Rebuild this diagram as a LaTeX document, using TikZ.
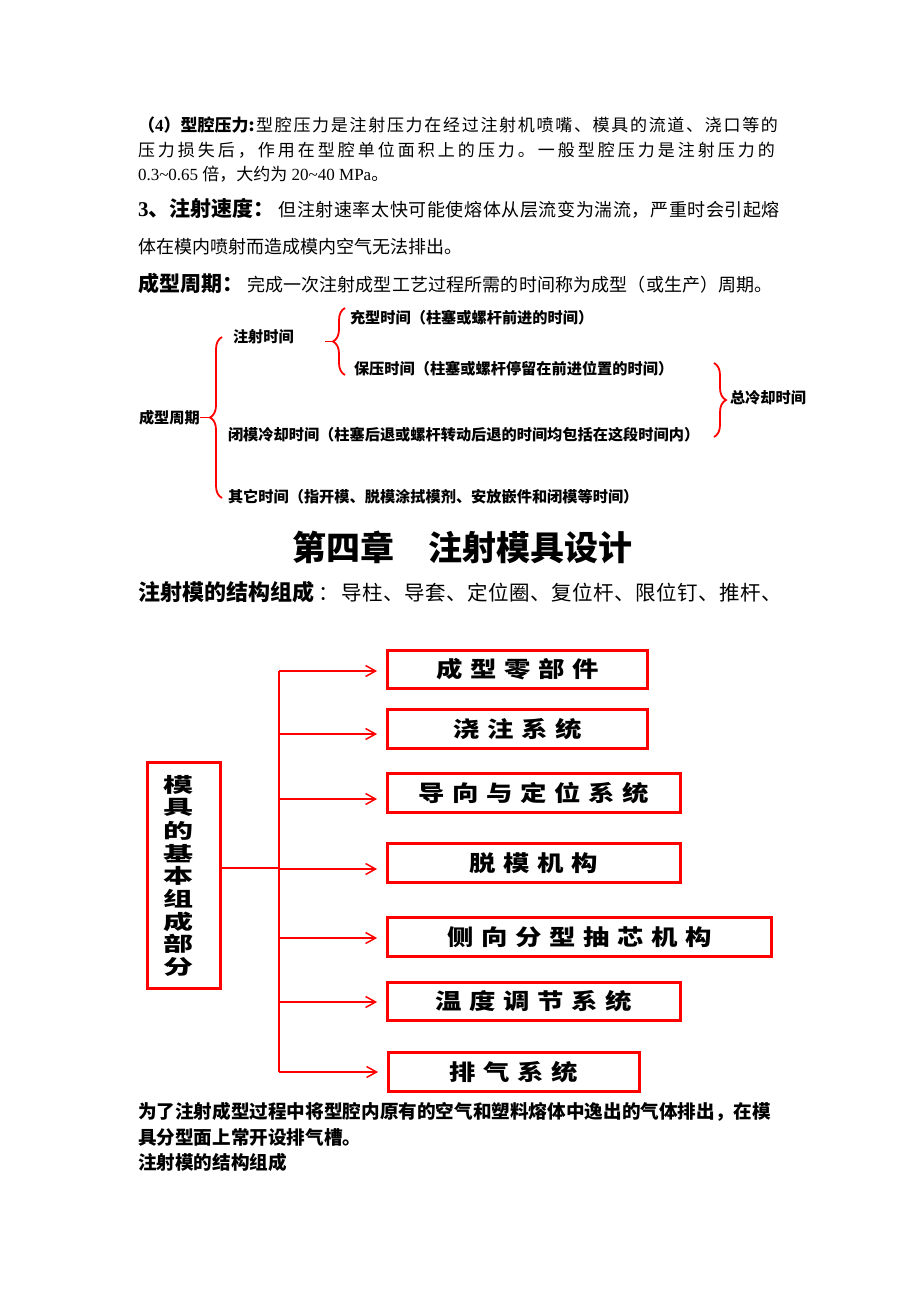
\documentclass[tikz,border=0pt]{standalone}
\usepackage{fontspec}
\usepackage{graphicx}
\setmainfont{Noto Sans CJK SC}
\newfontfamily\lat{Liberation Serif}
\usetikzlibrary{arrows.meta,decorations.pathreplacing}
\newcommand\fs[1]{\fontsize{#1}{#1}\selectfont}
\newcommand\gp{\hspace{6.3pt}}
\newcommand\wide[1]{\scalebox{1.2}[1]{#1}}
% spread characters: \spr abc...\relax puts stretchable glue between tokens
\def\spr#1#2{#1\ifx#2\relax\else\hskip0pt plus 1fil\expandafter\spr\expandafter#2\fi}
\begin{document}
\begin{tikzpicture}[x=1pt,y=-1pt,
  txt/.style={anchor=west,inner sep=0pt,outer sep=0pt},
  t17/.style={txt,font=\fs{17}},
  t18/.style={txt,font=\fs{18}},
  br/.style={txt,font=\fs{15.2}\bfseries},
  comp/.style={draw=red,line width=2.8pt,inner sep=0pt,font=\fs{22}\bfseries},
  vt/.style={inner sep=0pt,font=\fs{20}\bfseries},
  brc/.style={draw=red,line width=1.8pt,decorate,decoration={brace,amplitude=12pt}},
  rl/.style={draw=red,line width=1.8pt},
  tree/.style={draw=red,line width=2.6pt},
  arr/.style={tree,shorten >=9pt,-{Straight Barb[length=10pt,width=11pt,line width=1.5pt]}}]
\useasboundingbox (0,0) rectangle (920,1302);
\fill[white] (0,0) rectangle (920,1302);

% ---- top paragraph ----
\node[t17] (l1) at (138,125) {\hbox to 640pt{{\bfseries（{\lat 4}）型腔压力:}\hfil\spr 型腔压力是注射压力在经过注射机喷嘴、模具的流道、浇口等的\relax}};
\node[t17] (l2) at (138,150) {\hbox to 637pt{\spr 压力损失后，作用在型腔单位面积上的压力。一般型腔压力是注射压力的\relax}};
\node[t17] (l3) at (138,174) {{\lat 0.3\textasciitilde 0.65 }倍，大约为{\lat\ 20\textasciitilde 40 MPa}。};
\node[t18] (l4) at (138,208) {\hbox to 642pt{{\bfseries\fs{21}{\lat 3}、注射速度：}\hskip 4pt\spr 但注射速率太快可能使熔体从层流变为湍流，严重时会引起熔\relax}};
\node[t18] (l5) at (138,247) {体在模内喷射而造成模内空气无法排出。};
\node[t18] (l6) at (138,283) {\hbox to 635pt{{\bfseries\fs{21}成型周期：}\hskip 4pt\spr 完成一次注射成型工艺过程所需的时间称为成型（或生产）周期。\relax}};

% ---- bracket diagram ----
\node[br] (zs) at (233,337) {注射时间};
\node[br] (cx) at (350,318) {充型时间（柱塞或螺杆前进的时间）};
\node[br] (by) at (354,369) {保压时间（柱塞或螺杆停留在前进位置的时间）};
\node[br] (zq) at (139,417.5) {成型周期};
\node[br] (bm) at (228,435) {闭模冷却时间（柱塞后退或螺杆转动后退的时间均包括在这段时间内）};
\node[br] (qt) at (228,497) {其它时间（指开模、脱模涂拭模剂、安放嵌件和闭模等时间）};
\node[br] (zl) at (730,398) {总冷却时间};

\draw[brc] (222,498) -- (222,337);
\coordinate (bigtip) at (210,417.5);
\draw[rl] (zq.east) -- (bigtip);

\draw[brc] (345,375) -- (345,308);
\coordinate (smalltip) at (333,341.5);
\coordinate (smallstart) at (325,341.5);
\draw[rl] (smallstart) -- (smalltip);

\draw[brc] (714,363) -- (714,437);

% ---- chapter title ----
\node[inner sep=0pt,font=\fs{34}\bfseries] (title) at (462,547) {第四章　注射模具设计};
\node[txt,font=\fs{20.5}] (sub) at (138,592) {\hbox to 644pt{{\bfseries\fs{22}注射模的结构组成} ：\hskip 2pt\spr 导柱、导套、定位圈、复位杆、限位钉、推杆、\relax}};

% ---- structure tree ----
\node[draw=red,line width=2.8pt,minimum width=73pt,minimum height=226pt,inner sep=0pt] (L) at (184,875.5) {};
\foreach \c [count=\i from 0] in {模,具,的,基,本,组,成,部,分}
  \node[vt] (v\i) at (178,785+22.75*\i) {\scalebox{1.5}[1]{\c}};

\node[comp,minimum width=260pt,minimum height=38pt] (b1) at (517.5,669.5) {\wide{成\gp 型\gp 零\gp 部\gp 件}};
\node[comp,minimum width=260pt,minimum height=39pt] (b2) at (517.5,729) {\wide{浇\gp 注\gp 系\gp 统}};
\node[comp,minimum width=293pt,minimum height=39pt] (b3) at (534,793) {\wide{导\gp 向\gp 与\gp 定\gp 位\gp 系\gp 统}};
\node[comp,minimum width=293pt,minimum height=39pt] (b4) at (534,863) {\wide{脱\gp 模\gp 机\gp 构}};
\node[comp,minimum width=384pt,minimum height=39pt] (b5) at (579.5,937) {\wide{侧\gp 向\gp 分\gp 型\gp 抽\gp 芯\gp 机\gp 构}};
\node[comp,minimum width=293pt,minimum height=38pt] (b6) at (534,1001.5) {\wide{温\gp 度\gp 调\gp 节\gp 系\gp 统}};
\node[comp,minimum width=251pt,minimum height=39pt] (b7) at (514,1072) {\wide{排\gp 气\gp 系\gp 统}};

\coordinate (t1) at (279,671);
\coordinate (t2) at (279,734);
\coordinate (t3) at (279,799);
\coordinate (t4) at (279,869);
\coordinate (t5) at (279,938);
\coordinate (t6) at (279,1002);
\coordinate (t7) at (279,1072);
\coordinate (j) at (279,868);

\draw[tree] (t1) -- (t7);
\draw[tree] (j -| L.east) -- (j);
\foreach \k in {1,...,7}
  \draw[arr] (t\k) -- (t\k -| b\k.west);

% ---- bottom text ----
\node[txt,font=\fs{18.6}\bfseries] (e1) at (138,1112) {\hbox to 633pt{\spr 为了注射成型过程中将型腔内原有的空气和塑料熔体中逸出的气体排出，在模\relax}};
\node[txt,font=\fs{18.6}\bfseries] (e2) at (138,1137) {具分型面上常开设排气槽。};
\node[txt,font=\fs{18.6}\bfseries] (e3) at (138,1162) {注射模的结构组成};
\end{tikzpicture}
\end{document}
